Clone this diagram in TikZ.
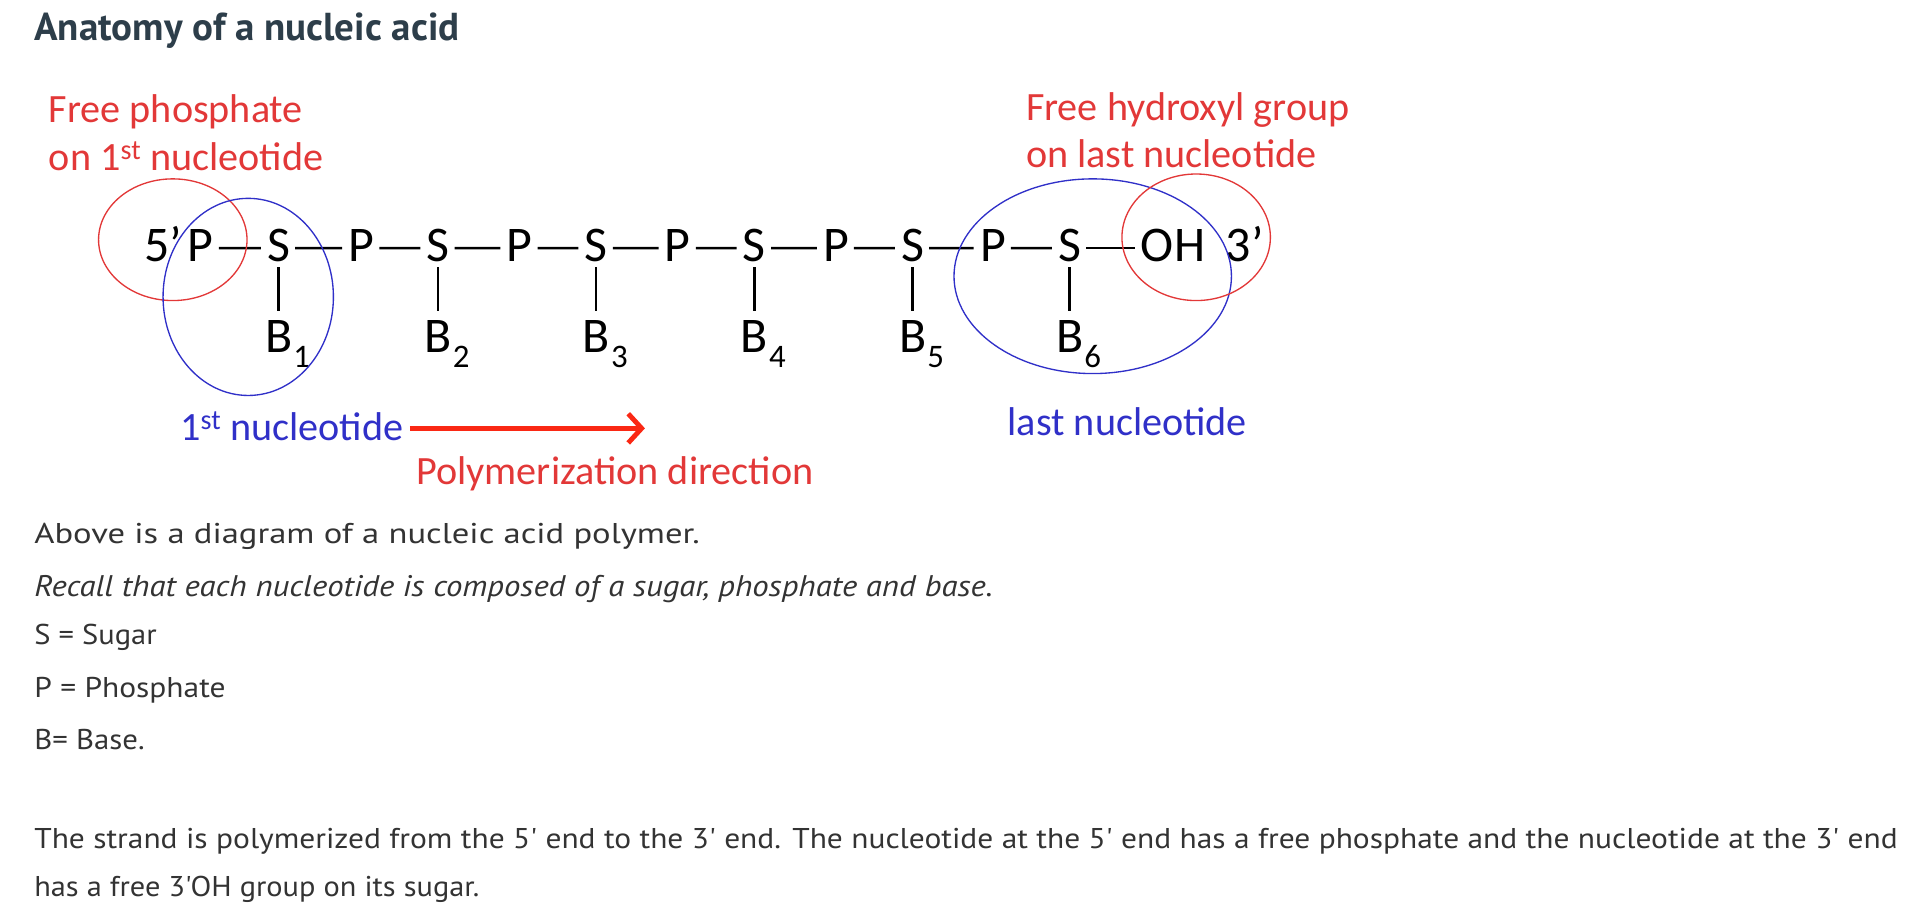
\documentclass[tikz,border=0pt]{standalone}
\usepackage{fontspec}
\setmainfont{PT Sans}
\newfontfamily\bodyfont{PT Sans}[FakeStretch=1.1, Ligatures=TeXOff]
\newfontfamily\calfont{Carlito}
\usetikzlibrary{arrows.meta}
\definecolor{titlec}{RGB}{45,62,74}
\definecolor{bodyc}{RGB}{51,51,51}
\definecolor{lred}{RGB}{226,56,56}
\definecolor{lblue}{RGB}{48,48,200}
\definecolor{arrred}{RGB}{250,40,20}
\newcommand{\bsub}[1]{\rlap{\kern1pt\raisebox{-12pt}{\fontsize{27}{27}\selectfont #1}}}
\tikzset{
  chain/.style={font=\calfont\fontsize{41}{41}\selectfont, inner sep=0pt, anchor=base},
  lab/.style={font=\calfont\fontsize{33}{38}\selectfont, anchor=base west, inner sep=0pt},
  body/.style={font=\bodyfont\fontsize{23.5}{28}\selectfont, text=bodyc, anchor=base west, inner sep=0pt},
  bond/.style={line width=2pt, black},
  ring/.style={line width=1.1pt},
}
\begin{document}
\begin{tikzpicture}[x=1pt,y=-1pt]
\useasboundingbox (0,0) rectangle (1568,754);
% title
\node[anchor=base west, inner sep=0pt, text=titlec, font=\bfseries\fontsize{32}{36}\selectfont] (title) at (28,33) {Anatomy of a nucleic acid};
% red labels
\node[lab, text=lred] (fp1) at (40,101) {Free phosphate};
\node[lab, text=lred] (fp2) at (40,140) {on 1\textsuperscript{st} nucleotide};
\node[lab, text=lred] (fh1) at (843,99) {Free hydroxyl group};
\node[lab, text=lred] (fh2) at (843,138) {on last nucleotide};
% chain
\node[chain] (P1) at (165,215) {P};
\node[chain, anchor=base east] (five) at (150,215) {5’};
\foreach \i/\s in {1/229,2/360,3/490,4/620,5/750,6/879}{
  \node[chain] (S\i) at (\s,215) {S};
  \node[chain] (B\i) at (\s,290) {B\bsub{\i}};
  \draw[bond] ([yshift=-4pt]S\i.south) -- ([yshift=8pt]B\i.north);
}
\foreach \i/\p in {2/297,3/427,4/557,5/687,6/816}{
  \node[chain] (P\i) at (\p,215) {P};
}
\node[chain] (OH) at (964,215) {OH};
\node[chain] (three) at (1023,215) {3’};
\draw[bond] ([xshift=4pt,yshift=-2pt]P1.east) -- ([xshift=-5pt,yshift=-2pt]S1.west);
\foreach \a/\b in {S1/P2,P2/S2,S2/P3,P3/S3,S3/P4,P4/S4,S4/P5,P5/S5,S5/P6,P6/S6,S6/OH}{
  \draw[bond] ([xshift=4pt,yshift=-2pt]\a.east) -- ([xshift=-5pt,yshift=-2pt]\b.west);
}
% circles
\draw[ring, lred] (142,197) ellipse [x radius=61, y radius=50];
\draw[ring, lblue] (204,244) ellipse [x radius=70, y radius=81];
\draw[ring, lblue] (898,227) ellipse [x radius=114, y radius=80];
\draw[ring, lred] (983,195) ellipse [x radius=61, y radius=52];
% bottom labels
\node[lab, text=lblue] (first) at (148,362) {1\textsuperscript{st} nucleotide};
\node[lab, text=lblue] (last) at (828,358) {last nucleotide};
\coordinate (arrend) at (530,352);
\draw[line width=4.5pt, arrred, -{Straight Barb[length=11pt,width=24pt,line width=4pt]}] ([xshift=5pt]first.east |- arrend) -- (arrend);
\node[lab, text=lred] (poly) at (342,398) {Polymerization direction};
% body text
\node[body] (t1) at (28,447) {\scalebox{1.1}[1]{Above is a diagram of a nucleic acid polymer.}};
\node[body, font=\bodyfont\itshape\fontsize{24.5}{28}\selectfont] (t2) at (28,490) {Recall that each nucleotide is composed of a sugar, phosphate and base.};
\node[body] (t3) at (28,530) {\scalebox{0.97}[1]{S = Sugar}};
\node[body] (t4) at (28,573) {P = Phosphate};
\node[body] (t5) at (28,616) {\scalebox{0.98}[1]{B= Base.}};
\node[body] (t6) at (28,697) {The strand is polymerized from the 5' end to the 3' end. The nucleotide at the 5' end has a free phosphate and the nucleotide at the 3' end};
\node[body] (t7) at (28,737) {\scalebox{0.965}[1]{has a free 3'OH group on its sugar.}};
\end{tikzpicture}
\end{document}
